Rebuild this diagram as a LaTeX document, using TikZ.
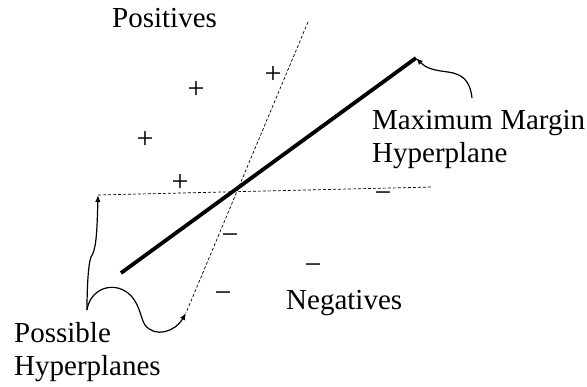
\documentclass[tikz,border=0pt]{standalone}
\usepackage{fontspec}
\setmainfont{Liberation Serif}
\usetikzlibrary{arrows.meta}
\begin{document}
\begin{tikzpicture}[x=1pt,y=-1pt,
  lbl/.style={inner sep=0pt,anchor=base west,font=\fontsize{29}{33}\selectfont},
  sgn/.style={inner sep=0pt,anchor=base,font=\fontsize{30}{33}\selectfont},
  hyp/.style={line width=0.7pt,dash pattern=on 3pt off 2pt},
  mm/.style={line width=3.8pt},
  brace/.style={line width=1.2pt,-{Latex[length=7pt,width=5.5pt]}}]
\useasboundingbox (0,0) rectangle (587,387);
% hyperplanes
\coordinate (h1a) at (98,195);
\coordinate (h1b) at (432,187);
\coordinate (h2a) at (308,22);
\coordinate (h2b) at (186,313);
\coordinate (mma) at (121,273);
\coordinate (mmb) at (416,58);
\draw[hyp] (h1a) -- (h1b);
\draw[hyp] (h2a) -- (h2b);
\draw[mm] (mma) -- (mmb);
% signs
\node[sgn] (p1) at (273,84) {+};
\node[sgn] (p2) at (196,99) {+};
\node[sgn] (p3) at (145,149) {+};
\node[sgn] (p4) at (180,192) {+};
\node[sgn] (n1) at (383,203) {\symbol{"2212}};
\node[sgn] (n2) at (230,245) {\symbol{"2212}};
\node[sgn] (n3) at (313,275) {\symbol{"2212}};
\node[sgn] (n4) at (223,303) {\symbol{"2212}};
% labels
\node[lbl] (pos) at (112,28) {Positives};
\node[lbl] (mm1) at (372,130) {Maximum Margin};
\node[lbl] (mm2) at (372,163) {Hyperplane};
\node[lbl] (neg) at (286,310) {Negatives};
\node[lbl] (ph1) at (14,343) {Possible};
\node[lbl] (ph2) at (14,376) {Hyperplanes};
% annotation arrows
\coordinate (mmstart) at (472,98);
\draw[brace] (mmstart) .. controls (470,80) and (462,74) .. (448,72)
  .. controls (432,70) and (426,68) .. (mmb);
\coordinate (br) at (87,310);
\draw[brace] (br) .. controls (87,290) and (88,265) .. (91,257)
  .. controls (96,250) and (97,235) .. (h1a);
\draw[brace] (br) .. controls (90,290) and (110,282) .. (125,291)
  .. controls (140,300) and (140,318) .. (145,325)
  .. controls (155,338) and (175,332) .. (h2b);
\end{tikzpicture}
\end{document}
